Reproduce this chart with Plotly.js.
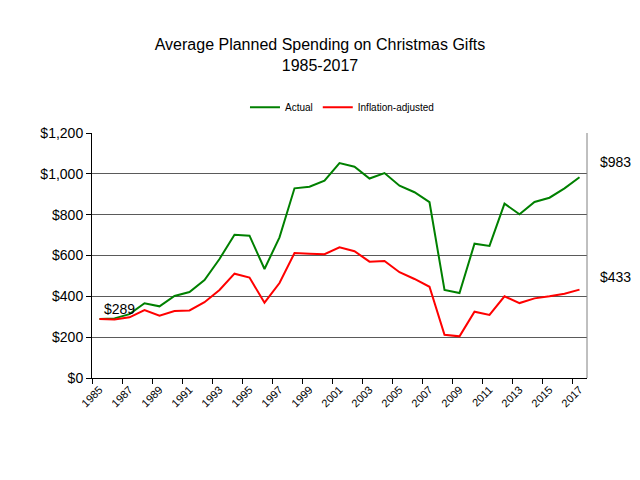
<!DOCTYPE html>
<html><head><meta charset="utf-8">
<script src="https://cdn.plot.ly/plotly-3.0.1.min.js"></script>
<style>body{margin:0;background:#fff}#c{width:640px;height:480px}</style>
</head><body><div id="c"></div>
<script>
const years = [1985,1986,1987,1988,1989,1990,1991,1992,1993,1994,1995,1996,1997,1998,1999,2000,2001,2002,2003,2004,2005,2006,2007,2008,2009,2010,2011,2012,2013,2014,2015,2016,2017];
const actual = [289,292,313,366,351,402,421,480,583,702,697,534,689,929,937,967,1053,1035,977,1004,942,910,861,431,416,658,647,854,802,862,883,929,983];
const inflationAdjusted = [289,286,297,333,305,328,331,371,431,511,492,369,465,612,609,606,640,621,570,573,518,485,447,212,204,325,309,400,367,390,400,413,433];
const tickYears = [1985,1987,1989,1991,1993,1995,1997,1999,2001,2003,2005,2007,2009,2011,2013,2015,2017];
const yTicks = [0,200,400,600,800,1000,1200];
const yTickText = ['$0','$200','$400','$600','$800','$1,000','$1,200'];

const fnt = 'Liberation Sans, Arial, sans-serif';
const traces = [
  {x: years, y: actual, name: 'Actual', mode: 'lines', line: {color: '#008000', width: 2}},
  {x: years, y: inflationAdjusted, name: 'Inflation-adjusted', mode: 'lines', line: {color: '#ff0000', width: 2}}
];
const n = years.length;
const layout = {
  width: 640, height: 480,
  paper_bgcolor: '#fff', plot_bgcolor: '#fff',
  font: {family: fnt, color: '#000'},
  margin: {l: 92, r: 53, t: 133, b: 102},
  title: {text: 'Average Planned Spending on Christmas Gifts<br>1985-2017', font: {size: 16, family: fnt, color: '#000'}, x: 0.5, xanchor: 'center', y: 0.895, yanchor: 'top'},
  showlegend: true,
  legend: {orientation: 'h', x: 0.505, xanchor: 'center', y: 1.105, yanchor: 'middle', font: {size: 10, family: fnt}, itemwidth: 30, traceorder: 'normal'},
  xaxis: {
    range: [1984.5, 2017.5], tickmode: 'array', tickvals: tickYears, ticktext: tickYears.map(String),
    tickangle: -45, tickfont: {size: 11, family: fnt}, ticks: '', showgrid: false, zeroline: false,
    showline: true, linecolor: '#000', linewidth: 1,
    minor: {tickmode: 'linear', tick0: 1984.5, dtick: 2, ticks: 'outside', ticklen: 5, tickcolor: '#000', showgrid: false}
  },
  yaxis: {
    range: [0, 1200], tickmode: 'array', tickvals: yTicks, ticktext: yTickText,
    tickfont: {size: 14, family: fnt}, ticks: 'outside', ticklen: 5, tickcolor: '#000',
    showgrid: true, gridcolor: '#5a5a5a', gridwidth: 1, zeroline: false,
    showline: true, linecolor: '#000', linewidth: 1
  },
  shapes: [
    {type: 'line', xref: 'paper', yref: 'paper', x0: 1, x1: 1, y0: 0, y1: 1, line: {color: '#808080', width: 1}}
  ],
  annotations: [
    {x: years[n-1], y: actual[n-1], xref: 'x', yref: 'y', text: '$' + actual[n-1], showarrow: false, xanchor: 'left', yanchor: 'bottom', xshift: 18, yshift: 5, font: {size: 14, family: fnt}},
    {x: years[n-1], y: inflationAdjusted[n-1], xref: 'x', yref: 'y', text: '$' + inflationAdjusted[n-1], showarrow: false, xanchor: 'left', yanchor: 'bottom', xshift: 18, yshift: 3, font: {size: 14, family: fnt}},
    {x: years[0], y: actual[0], xref: 'x', yref: 'y', text: '$' + actual[0], showarrow: false, xanchor: 'left', yanchor: 'bottom', xshift: 2, yshift: 0, font: {size: 14, family: fnt}}
  ]
};
Plotly.newPlot('c', traces, layout, {staticPlot: true, displayModeBar: false});
</script></body></html>
